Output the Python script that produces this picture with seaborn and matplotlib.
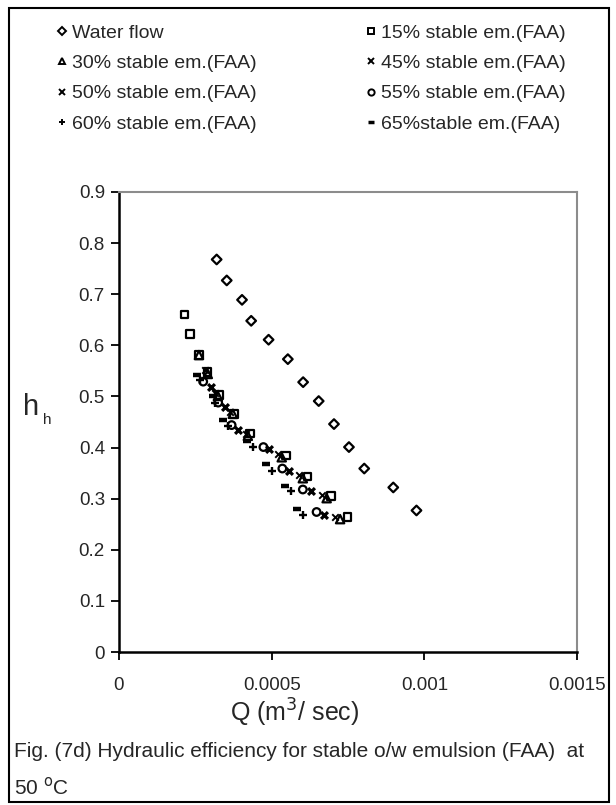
import numpy as np
import pandas as pd
import seaborn as sns
import matplotlib.pyplot as plt
from matplotlib.lines import Line2D
from matplotlib.patches import Rectangle

# values (Q in m3/sec, hydraulic efficiency)
water_q = [0.000320, 0.000353, 0.000403, 0.000433, 0.000490, 0.000553, 0.000603,
           0.000654, 0.000704, 0.000753, 0.000803, 0.000898, 0.000974]
water_h = [0.768, 0.727, 0.689, 0.648, 0.611, 0.573, 0.528,
           0.491, 0.446, 0.401, 0.359, 0.322, 0.277]

em15_q = [0.000214, 0.000233, 0.000262, 0.000291, 0.000328, 0.000377, 0.000429,
          0.000547, 0.000618, 0.000694, 0.000748]
em15_h = [0.660, 0.622, 0.581, 0.548, 0.503, 0.466, 0.427, 0.384, 0.344, 0.305, 0.264]

em30_q = [0.000262, 0.000291, 0.000324, 0.000373, 0.000422, 0.000533, 0.000602,
          0.000680, 0.000724]
em30_h = [0.581, 0.544, 0.501, 0.466, 0.423, 0.381, 0.340, 0.301, 0.260]

em45_q = [0.000282, 0.000314, 0.000364, 0.000416, 0.000522, 0.000590, 0.000666, 0.000707]
em45_h = [0.552, 0.507, 0.470, 0.427, 0.387, 0.346, 0.307, 0.265]

em50_q = [0.000300, 0.000347, 0.000391, 0.000492, 0.000558, 0.000628, 0.000671]
em50_h = [0.519, 0.480, 0.434, 0.397, 0.354, 0.315, 0.269]

em55_q = [0.000276, 0.000325, 0.000369, 0.000473, 0.000535, 0.000602, 0.000647]
em55_h = [0.529, 0.488, 0.444, 0.401, 0.359, 0.318, 0.274]

em60_q = [0.000265, 0.000313, 0.000357, 0.000440, 0.000500, 0.000562, 0.000604]
em60_h = [0.532, 0.487, 0.442, 0.402, 0.355, 0.315, 0.268]

em65_q = [0.000256, 0.000307, 0.000342, 0.000419, 0.000481, 0.000544, 0.000582]
em65_h = [0.542, 0.500, 0.454, 0.413, 0.368, 0.325, 0.279]

labels = ['Water flow', '15% stable em.(FAA)', '30% stable em.(FAA)',
          '45% stable em.(FAA)', '50% stable em.(FAA)', '55% stable em.(FAA)',
          '60% stable em.(FAA)', '65%stable em.(FAA)']

sns.set_style('white')
plt.rcParams['font.family'] = ['Liberation Sans', 'DejaVu Sans']

fig = plt.figure(figsize=(6.16, 8.05), dpi=100)
ax = fig.add_axes([0.193, 0.19, 0.744, 0.5715])

series = [
    (water_q, water_h, dict(marker='D', s=24, facecolors='none', edgecolors='black', linewidths=1.6)),
    (em15_q, em15_h, dict(marker='s', s=28, facecolors='none', edgecolors='black', linewidths=1.6)),
    (em30_q, em30_h, dict(marker='^', s=36, facecolors='none', edgecolors='black', linewidths=1.6)),
    (em45_q, em45_h, dict(marker='x', s=22, color='black', linewidths=1.4)),
    (em50_q, em50_h, dict(marker='x', s=24, color='black', linewidths=2.3)),
    (em55_q, em55_h, dict(marker='o', s=30, facecolors='none', edgecolors='black', linewidths=1.6)),
    (em60_q, em60_h, dict(marker='+', s=30, color='black', linewidths=1.7)),
    (em65_q, em65_h, dict(marker='_', s=32, color='black', linewidths=3.2)),
]

for q, h, kw in series:
    df = pd.DataFrame({'Q': q, 'h': h})
    sns.scatterplot(data=df, x='Q', y='h', ax=ax, legend=False, **kw)

ax.set_xlim(0, 0.0015)
ax.set_ylim(0, 0.9)
ax.set_xticks([0, 0.0005, 0.001, 0.0015])
ax.set_xticklabels(['0', '0.0005', '0.001', '0.0015'])
ax.set_yticks(np.arange(0, 0.91, 0.1))
ax.set_yticklabels(['0', '0.1', '0.2', '0.3', '0.4', '0.5', '0.6', '0.7', '0.8', '0.9'])
ax.tick_params(axis='both', direction='out', length=6, width=1.3, color='black',
               labelsize=13.5, bottom=True, left=True)
ax.tick_params(axis='x', pad=12)
ax.tick_params(axis='y', pad=4)
ax.set_xlabel('')
ax.set_ylabel('')
for side in ['left', 'bottom']:
    ax.spines[side].set_color('black')
    ax.spines[side].set_linewidth(1.8)
for side in ['top', 'right']:
    ax.spines[side].set_color('#8c8c8c')
    ax.spines[side].set_linewidth(1.5)

# axis titles
fig.text(0.051, 0.494, 'h', fontsize=21, ha='center', va='center')
fig.text(0.076, 0.478, 'h', fontsize=11, ha='center', va='center')
fig.text(0.478, 0.115, 'Q (m$^3$/ sec)', fontsize=18, ha='center', va='center')

# caption
fig.text(0.022, 0.066, 'Fig. (7d) Hydraulic efficiency for stable o/w emulsion (FAA)  at',
         fontsize=15, ha='left', va='center')
fig.text(0.022, 0.022, '50 $^{\\rm o}$C', fontsize=15, ha='left', va='center')

# legend, filled row by row
handles = []
for (q, h, kw), lab in zip(series, labels):
    mk = kw['marker']
    hollow = kw.get('facecolors') == 'none'
    handles.append(Line2D([], [], linestyle='none', marker=mk, markersize=4.5,
                          markerfacecolor='none' if hollow else 'black',
                          markeredgecolor='black',
                          markeredgewidth=2.5 if mk == '_' else 1.4,
                          label=lab))
order = [0, 2, 4, 6, 1, 3, 5, 7]
fig.legend([handles[i] for i in order], [labels[i] for i in order],
           ncol=2, loc='upper left', bbox_to_anchor=(0.062, 0.992),
           frameon=False, fontsize=14, handlelength=0.6, handletextpad=0.25,
           labelspacing=0.66, columnspacing=5.55)

# outer frame
fig.patches.append(Rectangle((0.014, 0.004), 0.974, 0.986, transform=fig.transFigure,
                             fill=False, edgecolor='black', linewidth=1.5))

fig.savefig('out.png', dpi=100)
